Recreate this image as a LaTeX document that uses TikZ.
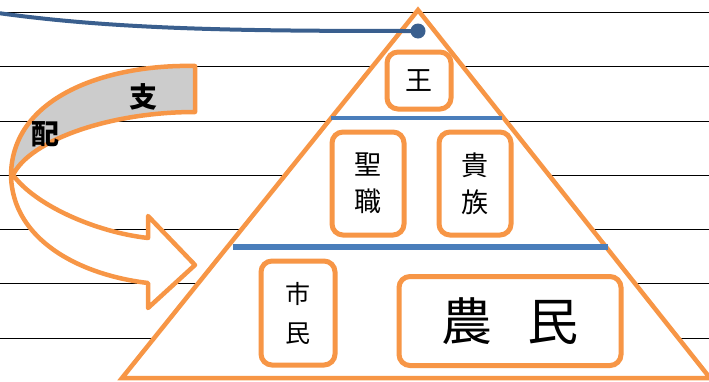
\documentclass[tikz,border=0pt]{standalone}
\usepackage{fontspec}
\newfontfamily\jp{Noto Sans CJK JP}
\definecolor{orng}{HTML}{F79646}
\definecolor{sepblue}{HTML}{4A7EBB}
\definecolor{connblue}{HTML}{3A5F8E}
\definecolor{bandgray}{HTML}{CCCCCC}
\tikzset{
  rule/.style={black, line width=0.9pt},
  tri/.style={draw=orng, fill=white, line width=4.5pt, line join=miter},
  sepbar/.style={sepblue, line width=5pt},
  box/.style={draw=orng, fill=white, line width=5pt, rounded corners=11pt, inner sep=0pt, align=center},
  midtxt/.style={font=\jp\fontsize{27}{37}\selectfont},
  smalltxt/.style={font=\jp\fontsize{25}{39}\selectfont},
  bigtxt/.style={font=\jp\fontsize{51}{55}\selectfont},
  arrowshape/.style={draw=orng, line width=4.5pt, line join=round},
  armtxt/.style={font=\jp\bfseries\fontsize{28}{30}\selectfont, inner sep=0pt},
  conn/.style={connblue, line width=4pt},
}
\begin{document}
\begin{tikzpicture}[x=1pt, y=-1pt]
\useasboundingbox (0,0) rectangle (709,381);
% ruled lines
\foreach \yy in {12,66.5,121,175,229,283.5,338}
  \draw[rule] (0,\yy) -- (709,\yy);
% pyramid
\coordinate (apex) at (418,10);
\coordinate (bl) at (122,378);
\coordinate (br) at (710,378);
\draw[tri] (apex) -- (bl) -- (br) -- cycle;
% separator bars
\coordinate (s1a) at (331,118);
\coordinate (s1b) at (502,118);
\coordinate (s2a) at (233,247);
\coordinate (s2b) at (608,247);
\draw[sepbar, line width=4.5pt] (s1a) -- (s1b);
\draw[sepbar, line width=6pt] (s2a) -- (s2b);
% boxes
\node[box, midtxt, minimum width=64pt, minimum height=57pt] (king) at (419,80.5) {王};
\node[box, midtxt, minimum width=72pt, minimum height=103pt] (clergy) at (368,183.5) {聖\\職};
\node[box, midtxt, minimum width=72pt, minimum height=103pt] (noble) at (475,183.5) {貴\\族};
\node[box, smalltxt, minimum width=74pt, minimum height=104pt] (citizen) at (298,313) {市\\民};
\node[box, bigtxt, minimum width=222pt, minimum height=89pt] (farmer) at (510,321) {農\hspace{35pt}民};
% connector to apex
\node[circle, fill=connblue, inner sep=0pt, minimum size=15pt] (dot) at (418,31) {};
\coordinate (cstart) at (-2,13);
\draw[conn] (cstart) .. controls (120,30) and (250,31) .. (dot.center);
% curved arrow: lower (white) part
\coordinate (j) at (13,175);
\draw[arrowshape, fill=white]
  (j) .. controls (35,205) and (95,232) .. (148,238)
  -- (148,216) -- (195,265) -- (148,308) -- (148,283)
  .. controls (80,275) and (12,240) .. (11,175) -- cycle;
% curved arrow: upper (grey) band
\draw[arrowshape, fill=bandgray]
  (195,66) -- (195,112)
  .. controls (110,112) and (30,140) .. (j)
  -- (11,175)
  .. controls (12,95) and (110,64) .. (195,66) -- cycle;
\node[armtxt] (shi) at (143,97) {支};
\node[armtxt] (hai) at (45,134) {配};
\end{tikzpicture}
\end{document}
